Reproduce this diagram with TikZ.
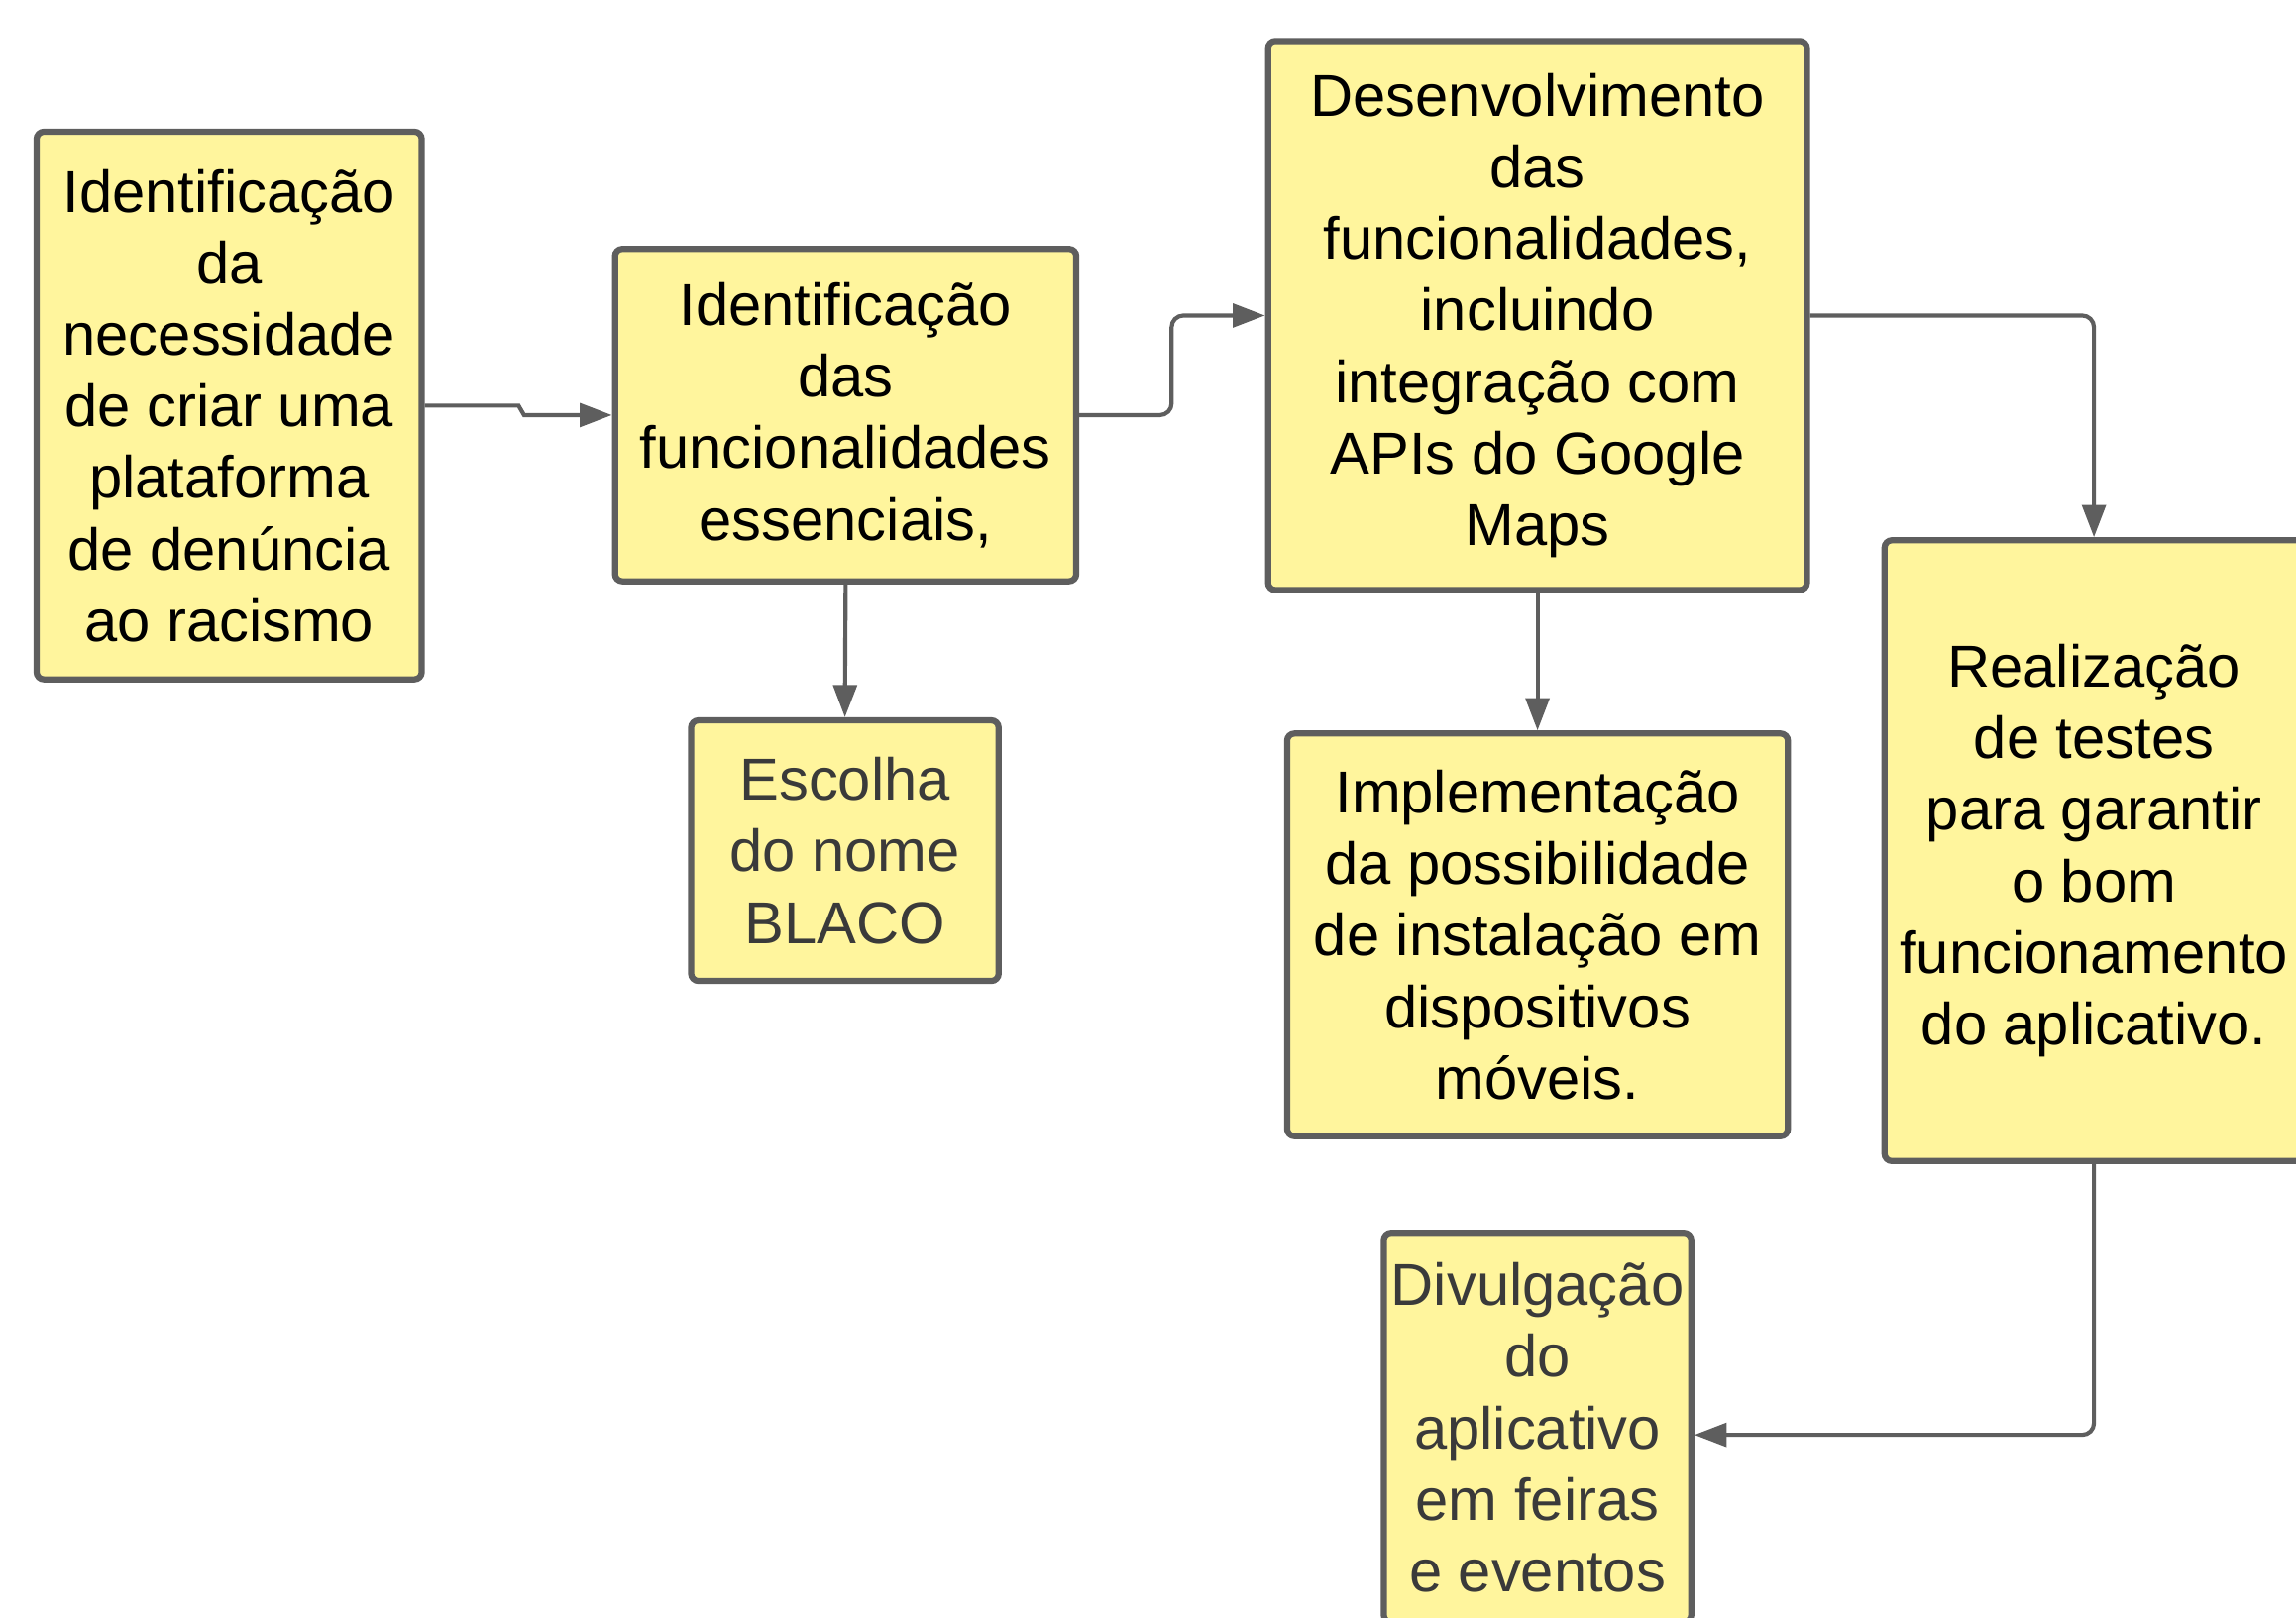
\documentclass[tikz,border=0pt]{standalone}
\usepackage{fontspec}
\setmainfont{Liberation Sans}
\usetikzlibrary{arrows.meta}
\definecolor{boxfill}{RGB}{255,245,157}
\definecolor{boxline}{RGB}{94,94,94}
\definecolor{greytext}{RGB}{58,58,58}

\begin{document}
\begin{tikzpicture}[
	stepbox/.style={draw=boxline,line width=1.2pt,fill=boxfill,rounded corners=0.05cm,
		align=center,inner sep=0pt,font={\fontsize{11.5}{13.9}\selectfont}},
	flow/.style={draw=boxline,line width=0.8pt,-{Triangle[length=2.2mm,width=1.6mm]}}
	]
	\useasboundingbox (0,0) rectangle (15.68,-11.05);
	
	%boxes
	\node[stepbox,minimum width=2.63cm,minimum height=3.74cm] (need) at (1.565,-2.77)
		{Identificação\\da\\necessidade\\de criar uma\\plataforma\\de denúncia\\ao racismo};
	\node[stepbox,minimum width=3.15cm,minimum height=2.27cm] (ident) at (5.775,-2.835)
		{Identificação\\das\\funcionalidades\\essenciais,};
	\node[stepbox,minimum width=3.68cm,minimum height=3.75cm] (dev) at (10.50,-2.155)
		{Desenvolvimento\\das\\funcionalidades,\\incluindo\\integração com\\APIs do Google\\Maps};
	\node[stepbox,text=greytext,minimum width=2.10cm,minimum height=1.78cm] (name) at (5.77,-5.81)
		{Escolha\\do nome\\BLACO};
	\node[stepbox,minimum width=3.42cm,minimum height=2.75cm] (install) at (10.50,-6.385)
		{Implementação\\da possibilidade\\de instalação em\\dispositivos\\móveis.};
	\node[stepbox,minimum width=2.86cm,minimum height=4.24cm] (tests) at (14.30,-5.81)
		{Realização\\de testes\\para garantir\\o bom\\funcionamento\\do aplicativo.};
	\node[stepbox,text=greytext,minimum width=2.10cm,minimum height=2.66cm] (fairs) at (10.50,-9.75)
		{Divulgação\\do\\aplicativo\\em feiras\\e eventos};
	
	%arrows
	\draw[flow] (need.east) -- ++(0.64,0) -- ([xshift=-0.6cm]ident.west) -- (ident.west);
	\draw[flow,rounded corners=0.08cm] (ident.east) -- ++(0.63,0) |- (dev.west);
	\draw[flow] (ident.south) -- (name.north);
	\draw[flow,rounded corners=0.08cm] (dev.east) -| (tests.north);
	\draw[flow] (dev.south) -- (install.north);
	\draw[flow,rounded corners=0.08cm] (tests.south) |- ([yshift=-0.05cm]fairs.east);
\end{tikzpicture}
\end{document}
